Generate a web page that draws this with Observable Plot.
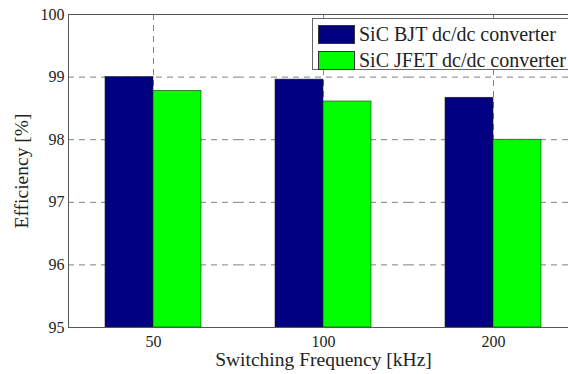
<!DOCTYPE html>
<html>
<head>
<meta charset="utf-8">
<script src="https://cdn.jsdelivr.net/npm/d3@7"></script>
<script src="https://cdn.jsdelivr.net/npm/@observablehq/plot@0.6"></script>
<style>
  html, body { margin: 0; padding: 0; background: #fff; }
  #wrap { position: relative; width: 568px; height: 374px; overflow: hidden; }
  #wrap svg g[aria-label="y-axis label"] text,
  #wrap svg g[aria-label="fx-axis label"] text { font-size: 19.5px; }
  .legend { position: absolute; left: 312px; top: 18px; width: 300px; height: 52px;
    border: 1px solid #666; background: #fff; font-family: "Liberation Serif", "Times New Roman", serif;
    font-size: 20px; color: #222; box-sizing: border-box; padding-top: 2px; }
  .legend .row { display: flex; align-items: center; height: 26.5px; }
  .legend .sw { width: 37px; height: 19px; margin-left: 5px; margin-right: 4px;
    border: 1px solid #333; box-sizing: border-box; }
</style>
</head>
<body>
<div id="wrap"></div>
<script>
const freqs = ["50", "100", "200"];
const seriesNames = ["SiC BJT dc/dc converter", "SiC JFET dc/dc converter"];
const bjtValues = [99.0, 98.96, 98.67];
const jfetValues = [98.78, 98.61, 98.0];
const yTicks = [95, 96, 97, 98, 99, 100];
const gridTicks = [96, 97, 98, 99];
const colors = ["#000080", "#00ff00"];

const data = freqs.flatMap((f, i) => [
  {freq: f, series: seriesNames[0], value: bjtValues[i]},
  {freq: f, series: seriesNames[1], value: jfetValues[i]}
]);

const gridStyle = {stroke: "#808080", strokeOpacity: 1, strokeWidth: 1, strokeDasharray: "6,5"};

const chart = Plot.plot({
  width: 568,
  height: 374,
  marginLeft: 67,
  marginRight: -10,
  marginTop: 14,
  marginBottom: 47,
  style: {fontFamily: "'Liberation Serif', 'Times New Roman', serif", fontSize: "16px", color: "#222", background: "#fff"},
  fx: {domain: freqs, padding: 0},
  x: {domain: seriesNames, paddingInner: 0, paddingOuter: 0.76, axis: null},
  y: {domain: [yTicks[0], yTicks[yTicks.length - 1]]},
  color: {domain: seriesNames, range: colors},
  marks: [
    Plot.gridY({ticks: gridTicks, ...gridStyle}),
    Plot.gridFx({...gridStyle}),
    Plot.barY(data, {fx: "freq", x: "series", y1: yTicks[0], y2: "value", fill: "series", stroke: "#222", strokeWidth: 0.6}),
    Plot.ruleY([yTicks[0], yTicks[yTicks.length - 1]], {stroke: "#555"}),
    Plot.frame({anchor: "left", facetAnchor: "left", stroke: "#555"}),
    Plot.axisY({ticks: yTicks, tickFormat: d => String(d), tickSize: 0, tickPadding: 4, label: "Efficiency [%]", labelAnchor: "center", labelOffset: 54, labelArrow: false}),
    Plot.axisFx({anchor: "bottom", tickSize: 0, tickPadding: 8, label: "Switching Frequency [kHz]", labelAnchor: "center", labelOffset: 38, labelArrow: false})
  ]
});

const wrap = document.getElementById("wrap");
wrap.appendChild(chart);

const legend = document.createElement("div");
legend.className = "legend";
seriesNames.forEach((name, i) => {
  const row = document.createElement("div");
  row.className = "row";
  const sw = document.createElement("div");
  sw.className = "sw";
  sw.style.background = colors[i];
  const label = document.createElement("span");
  label.textContent = name;
  row.appendChild(sw);
  row.appendChild(label);
  legend.appendChild(row);
});
wrap.appendChild(legend);
</script>
</body>
</html>
